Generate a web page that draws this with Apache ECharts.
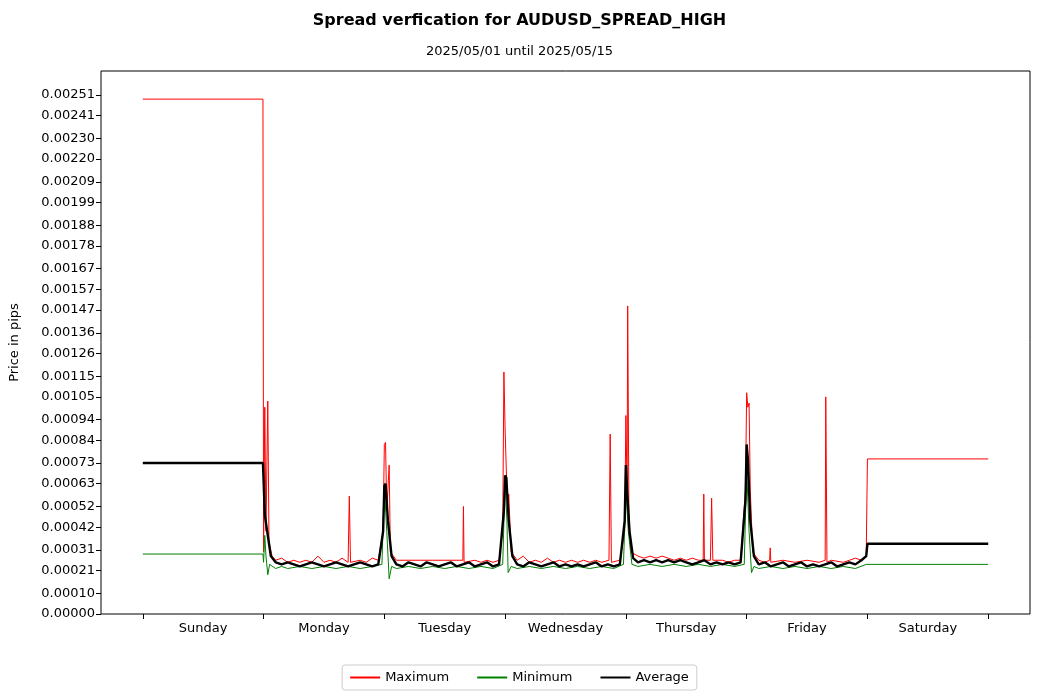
<!DOCTYPE html>
<html><head><meta charset="utf-8">
<script src="https://cdn.jsdelivr.net/npm/echarts@6/dist/echarts.min.js"></script>
<style>html,body{margin:0;padding:0;background:#fff}#c{width:1039px;height:700px}</style>
</head><body><div id="c"></div>
<script>
const dayLabels=['Sunday','Monday','Tuesday','Wednesday','Thursday','Friday','Saturday'];
const yTicks=[0,0.00010,0.00021,0.00031,0.00042,0.00052,0.00063,0.00073,0.00084,0.00094,0.00105,0.00115,0.00126,0.00136,0.00147,0.00157,0.00167,0.00178,0.00188,0.00199,0.00209,0.00220,0.00230,0.00241,0.00251];
// values in 1e-5 units, x in days
const maxPts=[[0,249],[0.995,249],[1.0,30],[1.01,100],[1.02,40],[1.035,103],[1.045,35],[1.07,28],[1.1,26],[1.15,27],[1.2,25],[1.25,26],[1.3,25],[1.35,26],[1.4,25],[1.45,28],[1.5,25],[1.55,26],[1.6,25],[1.65,27],[1.7,25],[1.71,57],[1.72,25],[1.8,26],[1.85,25],[1.9,27],[1.95,26],[1.99,40],[2.0,82],[2.01,83],[2.02,50],[2.04,72],[2.05,30],[2.1,26],[2.2,26],[2.3,26],[2.4,26],[2.5,26],[2.6,26],[2.65,26],[2.655,52],[2.66,25],[2.75,26],[2.8,25],[2.85,26],[2.9,25],[2.95,26],[2.98,40],[2.99,117],[3.0,89],[3.02,50],[3.03,58],[3.05,30],[3.1,26],[3.15,28],[3.2,25],[3.25,26],[3.3,25],[3.35,27],[3.4,25],[3.45,26],[3.5,25],[3.55,26],[3.6,25],[3.65,26],[3.7,25],[3.75,26],[3.8,25],[3.86,26],[3.87,87],[3.88,25],[3.95,26],[3.99,40],[4.0,96],[4.01,60],[4.015,149],[4.025,49],[4.04,30],[4.1,28],[4.15,27],[4.2,28],[4.25,27],[4.3,28],[4.35,27],[4.4,26],[4.45,27],[4.5,26],[4.55,27],[4.6,26],[4.64,26],[4.645,58],[4.65,26],[4.7,26],[4.71,56],[4.72,26],[4.8,26],[4.85,25],[4.9,26],[4.95,26],[4.99,60],[5.0,107],[5.01,100],[5.02,102],[5.03,60],[5.05,30],[5.1,26],[5.15,25],[5.19,26],[5.195,32],[5.2,25],[5.3,26],[5.4,25],[5.5,26],[5.6,25],[5.65,26],[5.655,105],[5.665,25],[5.7,26],[5.8,25],[5.85,26],[5.9,27],[5.95,26],[5.99,28],[6.0,75],[7.0,75]];
const minPts=[[0,29],[0.995,29],[1.0,25],[1.01,38],[1.02,28],[1.035,19],[1.05,24],[1.1,22],[1.15,23],[1.2,22],[1.3,23],[1.4,22],[1.5,23],[1.6,22],[1.7,23],[1.8,22],[1.9,23],[1.98,24],[2.0,62],[2.02,40],[2.04,17],[2.06,23],[2.1,22],[2.2,23],[2.3,22],[2.4,23],[2.5,22],[2.6,23],[2.7,22],[2.8,23],[2.9,22],[2.98,24],[3.0,65],[3.015,45],[3.025,20],[3.05,23],[3.1,22],[3.2,23],[3.3,22],[3.4,23],[3.5,22],[3.6,23],[3.7,22],[3.8,23],[3.9,22],[3.98,24],[4.0,60],[4.02,40],[4.05,24],[4.1,23],[4.2,24],[4.3,23],[4.4,24],[4.5,23],[4.6,24],[4.7,23],[4.8,24],[4.9,23],[4.98,24],[5.0,70],[5.02,40],[5.04,20],[5.06,23],[5.1,22],[5.2,23],[5.3,22],[5.4,23],[5.5,22],[5.6,23],[5.7,22],[5.8,23],[5.9,22],[5.99,24],[6.0,24],[7.0,24]];
const avgPts=[[0,73],[0.995,73],[1.0,65],[1.01,48],[1.03,40],[1.06,28],[1.1,25],[1.15,24],[1.2,25],[1.25,24],[1.3,23],[1.35,24],[1.4,25],[1.45,24],[1.5,23],[1.55,24],[1.6,25],[1.65,24],[1.7,23],[1.75,24],[1.8,25],[1.85,24],[1.9,23],[1.95,24],[1.99,40],[2.0,62],[2.01,63],[2.03,45],[2.06,28],[2.1,24],[2.15,23],[2.2,25],[2.25,24],[2.3,23],[2.35,25],[2.4,24],[2.45,23],[2.5,24],[2.55,25],[2.6,23],[2.65,24],[2.7,25],[2.75,23],[2.8,24],[2.85,25],[2.9,23],[2.95,24],[2.99,50],[3.0,67],[3.01,66],[3.03,45],[3.06,28],[3.1,24],[3.15,23],[3.2,25],[3.25,24],[3.3,23],[3.35,24],[3.4,25],[3.45,23],[3.5,24],[3.55,23],[3.6,24],[3.65,23],[3.7,24],[3.75,25],[3.8,23],[3.85,24],[3.9,23],[3.95,24],[3.99,45],[4.0,72],[4.01,60],[4.03,40],[4.06,27],[4.1,25],[4.15,26],[4.2,25],[4.25,26],[4.3,25],[4.35,26],[4.4,25],[4.45,26],[4.5,25],[4.55,24],[4.6,25],[4.65,26],[4.7,24],[4.75,25],[4.8,24],[4.85,25],[4.9,24],[4.95,25],[4.99,55],[5.0,82],[5.01,75],[5.03,45],[5.06,28],[5.1,24],[5.15,25],[5.2,23],[5.25,24],[5.3,25],[5.35,23],[5.4,24],[5.45,25],[5.5,23],[5.55,24],[5.6,23],[5.65,24],[5.7,25],[5.75,23],[5.8,24],[5.85,25],[5.9,24],[5.95,26],[5.99,28],[6.0,34],[7.0,34]];
const conv=a=>a.map(p=>[p[0],p[1]*1e-5]);
const ch=echarts.init(document.getElementById('c'));
const lineS=(name,data,color,w)=>({name,type:'line',data:conv(data),showSymbol:false,symbol:'none',lineStyle:{color,width:w},itemStyle:{color},animation:false});
ch.setOption({
 animation:false,
 title:{text:'Spread verfication for AUDUSD_SPREAD_HIGH',subtext:'2025/05/01 until 2025/05/15',left:'center',top:8,
  textStyle:{fontSize:16,fontWeight:'bold',color:'#000',fontFamily:'DejaVu Sans'},
  subtextStyle:{fontSize:13,color:'#000',fontFamily:'DejaVu Sans'},itemGap:16},
 legend:{bottom:10,left:'center',itemWidth:30,itemHeight:2,itemGap:28,icon:'rect',
  textStyle:{fontSize:13,color:'#000',fontFamily:'DejaVu Sans'},
  borderColor:'#ccc',borderWidth:1,borderRadius:3,padding:[6,8],
  data:['Maximum','Minimum','Average']},
 grid:{left:97,right:9,top:71,bottom:86,show:true,borderColor:'#000',borderWidth:1,backgroundColor:'transparent'},
 xAxis:{type:'value',min:-0.346,max:7.346,splitLine:{show:false},
  axisLine:{show:false,onZero:false},
  axisTick:{show:true,customValues:[0,1,2,3,4,5,6,7],length:5,lineStyle:{color:'#000'}},
  axisLabel:{customValues:[0.5,1.5,2.5,3.5,4.5,5.5,6.5],formatter:v=>dayLabels[Math.floor(v)],color:'#000',fontSize:13,margin:8,fontFamily:'DejaVu Sans'}},
 yAxis:{type:'value',min:0,max:0.002626,name:'Price in pips',nameLocation:'middle',nameGap:80,
  nameTextStyle:{fontSize:13,color:'#000',fontFamily:'DejaVu Sans'},
  splitLine:{show:false},axisLine:{show:false,onZero:false},
  axisTick:{show:true,customValues:yTicks,length:5,lineStyle:{color:'#000'}},
  axisLabel:{customValues:yTicks,formatter:v=>v.toFixed(5),color:'#000',fontSize:13,margin:6,fontFamily:'DejaVu Sans'}},
 series:[lineS('Maximum',maxPts,'#ff0000',1),lineS('Minimum',minPts,'#008000',1),lineS('Average',avgPts,'#000000',2.4)]
});
</script></body></html>
